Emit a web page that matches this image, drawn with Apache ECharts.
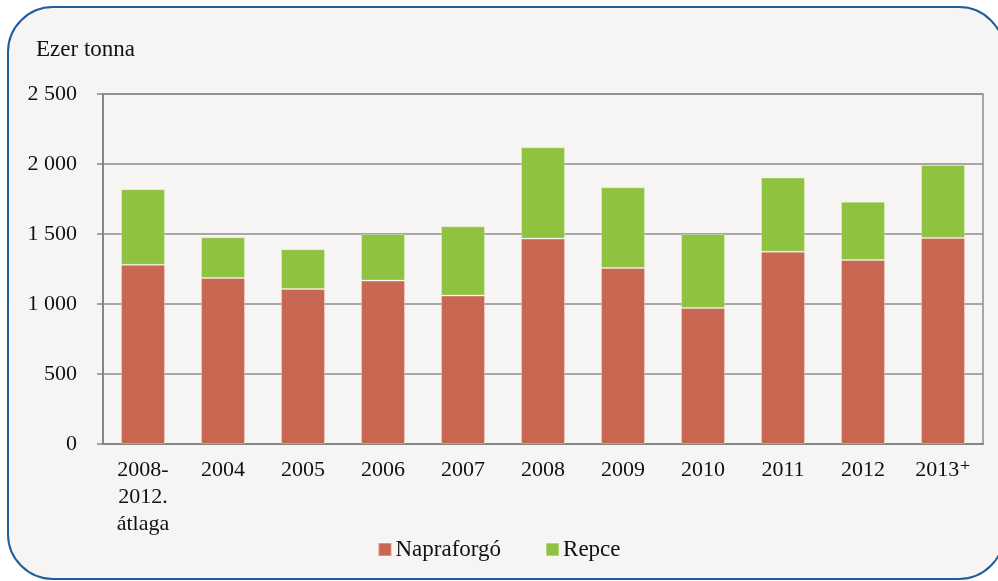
<!DOCTYPE html>
<html>
<head>
<meta charset="utf-8">
<script src="https://cdn.jsdelivr.net/npm/echarts@6/dist/echarts.min.js"></script>
<style>
  html, body { margin: 0; padding: 0; background: #ffffff; }
  #main { width: 998px; height: 581px; }
</style>
</head>
<body>
<div id="main"></div>
<script>
// adatok
var categories = ['2008-\n2012.\nátlaga', '2004', '2005', '2006', '2007', '2008', '2009', '2010', '2011', '2012', '2013⁺'];
var napraforgo = [1280, 1186, 1107, 1167, 1060, 1467, 1257, 971, 1373, 1314, 1471];
var repce = [540, 290, 284, 333, 495, 652, 577, 529, 530, 417, 522];
var yTicks = [0, 500, 1000, 1500, 2000, 2500];

(function () {
  var myChart = echarts.init(document.getElementById('main'));
  var font = '"Liberation Serif", "DejaVu Serif", serif';

  var option = {
    backgroundColor: '#ffffff',
    color: ['#C86852', '#8FC23F'],
    textStyle: { fontFamily: font },
    // keret
    graphic: [{
      type: 'rect',
      z: -10,
      shape: { x: 8, y: 7, width: 996, height: 572, r: 45 },
      style: { fill: '#F6F5F3', stroke: '#1F5E9C', lineWidth: 2 }
    }],
    title: {
      text: 'Ezer tonna',
      left: 31,
      top: 33,
      textStyle: { fontFamily: font, fontSize: 23, fontWeight: 'normal', color: '#111' }
    },
    legend: {
      data: ['Napraforgó', 'Repce'],
      left: 'center',
      top: 533,
      icon: 'rect',
      itemWidth: 13,
      itemHeight: 13,
      itemGap: 44,
      textStyle: { fontFamily: font, fontSize: 23, color: '#111', padding: [0, 0, 0, -1] }
    },
    grid: {
      left: 103,
      right: 15,
      top: 94,
      bottom: 137,
      show: true,
      borderColor: '#8C8C8C',
      borderWidth: 1.5
    },
    xAxis: {
      type: 'category',
      data: categories,
      axisLine: { lineStyle: { color: '#868686', width: 2 } },
      axisTick: { length: 6, lineStyle: { color: '#868686', width: 1.5 } },
      axisLabel: {
        color: '#111',
        fontFamily: font,
        fontSize: 22,
        lineHeight: 27,
        margin: 13,
        interval: 0
      }
    },
    yAxis: {
      type: 'value',
      min: 0,
      max: 2500,
      interval: 500,
      axisLine: { show: true, lineStyle: { color: '#868686', width: 2 } },
      axisTick: { show: true, length: 6, lineStyle: { color: '#868686', width: 1.5 } },
      axisLabel: {
        color: '#111',
        fontFamily: font,
        fontSize: 22,
        margin: 26,
        formatter: function (v) {
          return String(v).replace(/\B(?=(\d{3})+(?!\d))/g, ' ');
        }
      },
      splitLine: { lineStyle: { color: '#8C8C8C', width: 1.5 } }
    },
    series: [{
      name: 'Napraforgó',
      type: 'bar',
      stack: 'total',
      barWidth: '55%',
      data: napraforgo,
      itemStyle: { borderColor: 'rgba(255,255,255,0.3)', borderWidth: 1 }
    }, {
      name: 'Repce',
      type: 'bar',
      stack: 'total',
      barWidth: '55%',
      data: repce,
      itemStyle: { borderColor: 'rgba(255,255,255,0.3)', borderWidth: 1 }
    }]
  };

  myChart.setOption(option);
  window.addEventListener('resize', function () {
    myChart.resize();
  });
})();
</script>
</body>
</html>
